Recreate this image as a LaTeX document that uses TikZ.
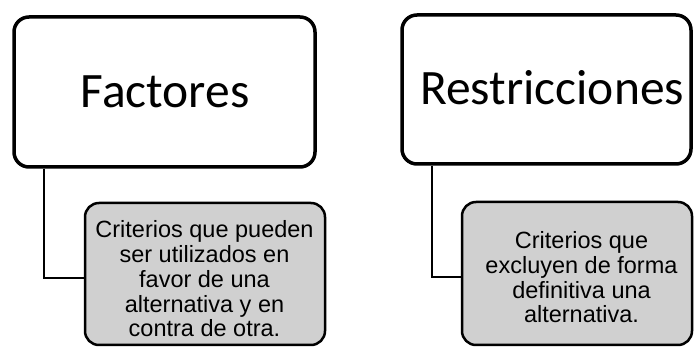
\documentclass[tikz,border=0pt]{standalone}
\usepackage{fontspec}
\setmainfont{Carlito}
\newfontfamily\arialf{Liberation Sans}
\definecolor{childgray}{RGB}{208,208,208}
\tikzset{
  topbox/.style={draw=black, line width=3.5pt, rounded corners=15pt, fill=white, inner sep=0pt},
  childbox/.style={draw=black, line width=2.5pt, rounded corners=14pt, fill=childgray, inner sep=0pt},
  toptext/.style={inner sep=0pt, font=\fontsize{49.5}{59}\selectfont},
  childtext/.style={inner sep=0pt, align=center, font=\arialf\fontsize{23.5}{24.8}\selectfont},
  conn/.style={draw=black, line width=2pt}
}
\begin{document}
\begin{tikzpicture}[x=1pt,y=-1pt]
\useasboundingbox (0,0) rectangle (694,347);
% left group
\node[topbox, minimum width=301pt, minimum height=150pt] (f1) at (164.5,92) {};
\node[toptext, anchor=base] (f1t) at (165,107.7) {Factores};
\node[childbox, minimum width=240pt, minimum height=142pt] (f2) at (205,274) {};
\node[childtext, anchor=base] (f2t) at (204.5,337) {Criterios que pueden\\ser utilizados en\\favor de una\\alternativa y en\\contra de otra.};
\coordinate (c1) at (44,278);
\draw[conn] (f1.south -| c1) -- (c1) -- (f2.west |- c1);
% right group
\node[topbox, minimum width=289pt, minimum height=149pt] (r1) at (546.5,89.5) {};
\node[toptext, anchor=base] (r1t) at (552,104.3) {Restricciones};
\node[childbox, minimum width=230pt, minimum height=143pt] (r2) at (577,273.5) {};
\node[childtext, anchor=base] (r2t) at (581.5,323) {Criterios que\\excluyen de forma\\definitiva una\\alternativa.};
\coordinate (c2) at (432,277);
\draw[conn] (r1.south -| c2) -- (c2) -- (r2.west |- c2);
\end{tikzpicture}
\end{document}
